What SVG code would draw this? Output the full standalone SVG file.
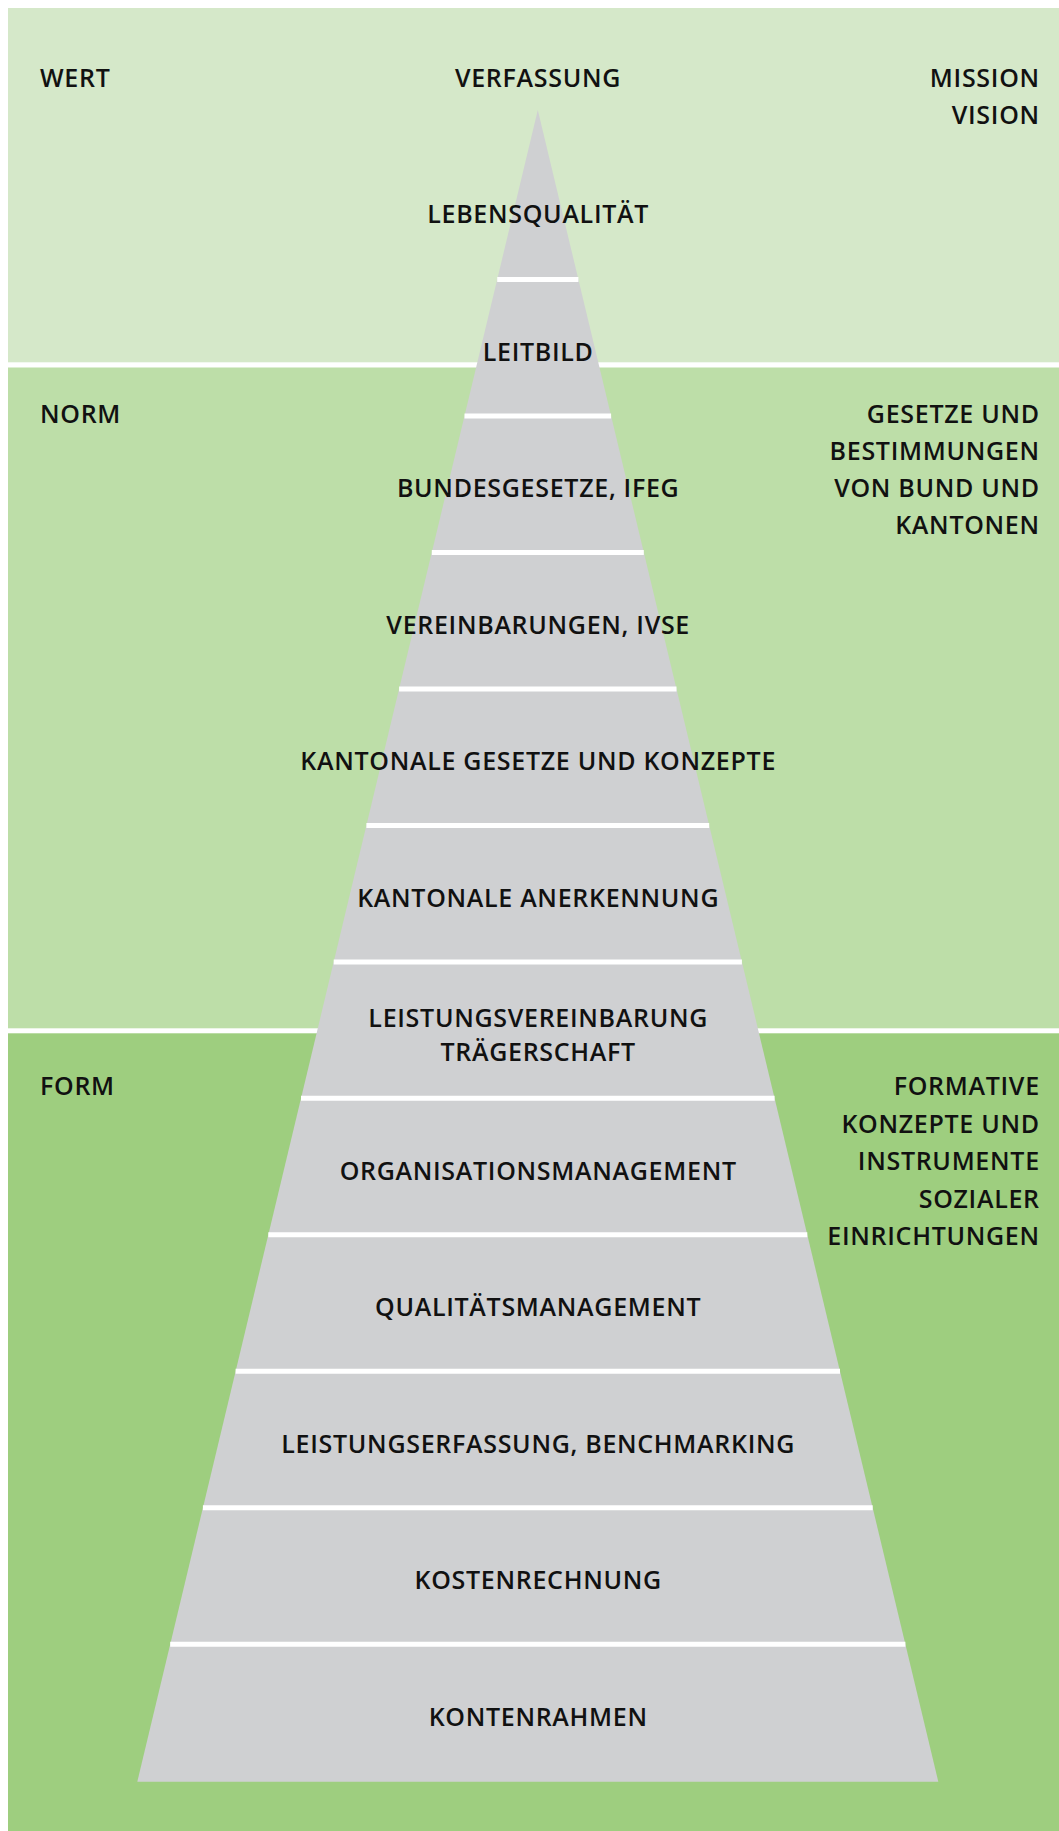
<svg xmlns="http://www.w3.org/2000/svg" width="1059" height="1831" viewBox="0 0 1059 1831">
<style>
text{font-family:"Open Sans","Noto Sans","Liberation Sans",sans-serif;font-size:25px;font-weight:600;fill:#111;letter-spacing:0.7px}
.c{text-anchor:middle}
.r{text-anchor:end}
.sep{stroke:#fff;stroke-width:5}
</style>
<rect width="1059" height="1831" fill="#fff"/>
<g id="band-wert">
<rect x="8" y="8" width="1051" height="354.3" fill="#D5E8C9"/>
<text x="40" y="87">WERT</text>
<text class="c" x="538" y="87">VERFASSUNG</text>
<text class="r" x="1039.8" y="87">MISSION</text>
<text class="r" x="1039.8" y="123.5">VISION</text>
</g>
<g id="band-norm">
<rect x="8" y="367.5" width="1051" height="660.8" fill="#BDDEA8"/>
<text x="40" y="422.5">NORM</text>
<text class="r" x="1039.8" y="422.5">GESETZE UND</text>
<text class="r" x="1039.8" y="459.5">BESTIMMUNGEN</text>
<text class="r" x="1039.8" y="496.7">VON BUND UND</text>
<text class="r" x="1039.8" y="534">KANTONEN</text>
</g>
<g id="band-form">
<rect x="8" y="1033.3" width="1051" height="797.7" fill="#9ECE7F"/>
<text x="40" y="1095">FORM</text>
<text class="r" x="1039.8" y="1095">FORMATIVE</text>
<text class="r" x="1039.8" y="1132.5">KONZEPTE UND</text>
<text class="r" x="1039.8" y="1170">INSTRUMENTE</text>
<text class="r" x="1039.8" y="1207.5">SOZIALER</text>
<text class="r" x="1039.8" y="1245">EINRICHTUNGEN</text>
</g>
<g id="pyramid">
<polygon points="537.8,110 938.3,1781.7 137.3,1781.7" fill="#CFD0D2"/>
</g>
<g id="separators">
<line class="sep" x1="497.2" y1="279.5" x2="578.4" y2="279.5"/>
<line class="sep" x1="464.5" y1="416" x2="611.1" y2="416"/>
<line class="sep" x1="431.8" y1="552.4" x2="643.8" y2="552.4"/>
<line class="sep" x1="399.1" y1="688.9" x2="676.5" y2="688.9"/>
<line class="sep" x1="366.4" y1="825.4" x2="709.2" y2="825.4"/>
<line class="sep" x1="333.7" y1="961.9" x2="741.9" y2="961.9"/>
<line class="sep" x1="301" y1="1098.3" x2="774.6" y2="1098.3"/>
<line class="sep" x1="268.3" y1="1234.8" x2="807.3" y2="1234.8"/>
<line class="sep" x1="235.6" y1="1371.3" x2="840" y2="1371.3"/>
<line class="sep" x1="202.9" y1="1507.7" x2="872.7" y2="1507.7"/>
<line class="sep" x1="170.2" y1="1644.2" x2="905.4" y2="1644.2"/>
</g>
<g id="level-lebensqualitaet"><text class="c" x="538.2" y="223.3">LEBENSQUALITÄT</text></g>
<g id="level-leitbild"><text class="c" x="538.2" y="360.5">LEITBILD</text></g>
<g id="level-bundesgesetze"><text class="c" x="538.2" y="497.2">BUNDESGESETZE, IFEG</text></g>
<g id="level-vereinbarungen"><text class="c" x="538.2" y="633.8">VEREINBARUNGEN, IVSE</text></g>
<g id="level-kantonale-gesetze"><text class="c" x="538.2" y="770.2">KANTONALE GESETZE UND KONZEPTE</text></g>
<g id="level-kantonale-anerkennung"><text class="c" x="538.2" y="906.7">KANTONALE ANERKENNUNG</text></g>
<g id="level-leistungsvereinbarung"><text class="c" x="538.2" y="1027">LEISTUNGSVEREINBARUNG</text><text class="c" x="538.2" y="1061">TRÄGERSCHAFT</text></g>
<g id="level-organisationsmanagement"><text class="c" x="538.2" y="1179.6">ORGANISATIONSMANAGEMENT</text></g>
<g id="level-qualitaetsmanagement"><text class="c" x="538.2" y="1316">QUALITÄTSMANAGEMENT</text></g>
<g id="level-leistungserfassung"><text class="c" x="538.2" y="1452.5">LEISTUNGSERFASSUNG, BENCHMARKING</text></g>
<g id="level-kostenrechnung"><text class="c" x="538.2" y="1589">KOSTENRECHNUNG</text></g>
<g id="level-kontenrahmen"><text class="c" x="538.2" y="1726">KONTENRAHMEN</text></g>
</svg>
